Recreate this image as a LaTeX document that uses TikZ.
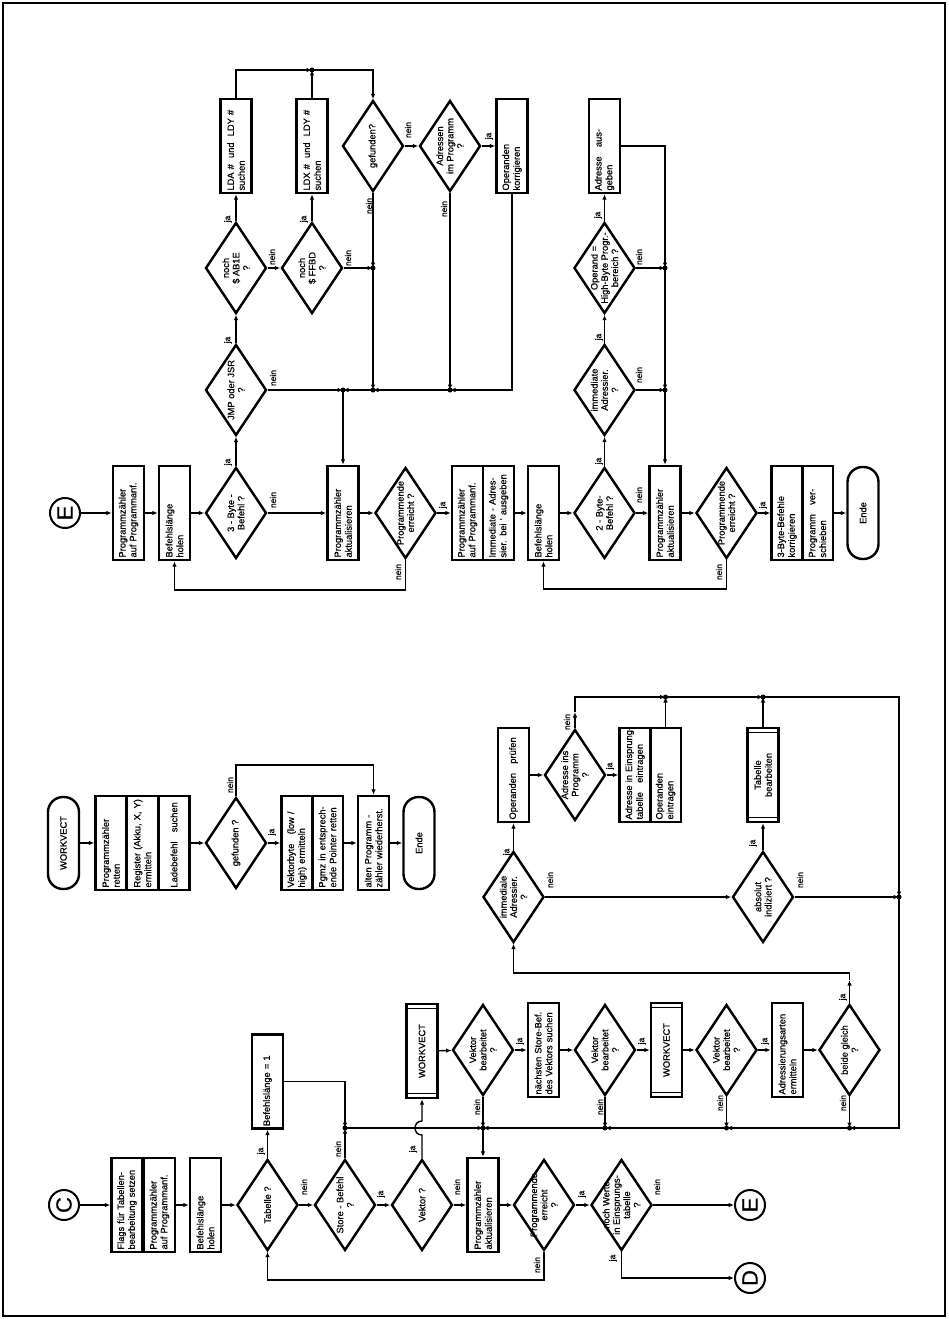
\documentclass[tikz,border=0pt]{standalone}
\usepackage{fontspec}
\setmainfont{Liberation Sans}[FakeBold=0.6]
\usepackage{tikz}
\usetikzlibrary{calc, positioning, shapes.geometric, arrows.meta}

\tikzset{
  box/.style={draw, line width=2.4pt, rotate=90, rectangle, minimum width=94pt, minimum height=31pt,
    text width=89pt, inner xsep=2.5pt, inner ysep=1pt, align=left, font=\fontsize{9.3}{10.8}\selectfont},
  subr/.style={box, align=center},
  dec/.style={draw, line width=2.4pt, rotate=90, diamond, minimum width=91pt, minimum height=61pt,
    inner sep=-15pt, align=center, font=\fontsize{9.3}{10.3}\selectfont},
  term/.style={draw, line width=2.4pt, rotate=90, rectangle, rounded corners=15pt, minimum width=92pt,
    minimum height=31pt, align=center, font=\fontsize{9.3}{10.8}\selectfont},
  conn/.style={draw, line width=2pt, rotate=90, circle, minimum size=30pt, inner sep=0pt,
    font=\fontsize{22}{22}\selectfont},
  arr/.style={-{Latex[length=5.5pt,width=4.5pt]}, line width=1.4pt},
  lbl/.style={rotate=90, inner sep=0pt, font=\fontsize{8.5}{9}\selectfont}
}

\begin{document}
\begin{tikzpicture}[x=1pt, y=-1pt]
  \useasboundingbox (0,0) rectangle (948,1319);
  \draw[line width=2pt] (3,3) rectangle (945,1316);

  % E: 3-byte commands
  \node[conn] (eE) at (65,513) {E};
  \node[box] (e1) at (128.5,513) {Programmzähler\\auf Programmanf.};
  \node[box] (e2) at (174.5,513) {Befehlslänge\\holen};
  \node[dec] (e3) at (236,513) {3 - Byte -\\Befehl ?};
  \node[dec] (e4) at (236,390) {JMP oder JSR\\?};
  \node[dec] (e5) at (236,268) {noch\\\$ AB1E\\?};
  \node[box] (e6) at (236,146) {LDA \# \ und \ LDY \#\\suchen};
  \node[dec] (e7) at (312,268) {noch\\\$ FFBD\\?};
  \node[box] (e8) at (312,146) {LDX \# \ und \ LDY \#\\suchen};
  \node[dec] (e9) at (373,146) {gefunden?};
  \node[dec] (e10) at (450,146) {Adressen\\im Programm\\?};
  \node[box] (e11) at (512,146) {Operanden\\korrigieren};
  \node[box] (e12) at (343,513) {Programmzähler\\aktualisieren};
  \node[dec] (e13) at (405.5,513) {Programmende\\erreicht ?};
  \node[box] (e14a) at (467.5,513) {Programmzähler\\auf Programmanf.};
  \node[box] (e14b) at (498.5,513) {Immediate - Adres-\\sier. bei ' ausgeben};
  \node[box] (e15) at (543.5,513) {Befehlslänge\\holen};
  % E: 2-byte commands
  \node[dec] (e16) at (604.5,513) {2 - Byte-\\Befehl ?};
  \node[dec] (e17) at (604.5,390) {immediate\\Adressier.\\?};
  \node[dec] (e18) at (604.5,268) {Operand =\\High-Byte Progr.-\\bereich ?};
  \node[box] (e19) at (604.5,146) {Adresse\quad aus-\\geben};
  \node[box] (e20) at (665,513) {Programmzähler\\aktualisieren};
  \node[dec] (e21) at (726.5,513) {Programmende\\erreicht ?};
  \node[box] (e22a) at (787,513) {3-Byte-Befehle\\korrigieren};
  \node[box] (e22b) at (817.5,513) {Programm\quad ver-\\schieben};
  \node[term] (e23) at (863,513) {Ende};

  \coordinate (jE1) at (312,70);
  \coordinate (jE2) at (373,268);
  \coordinate (jE3) at (343,390);
  \coordinate (jE4) at (373,390);
  \coordinate (jE5) at (450,390);
  \coordinate (jE6) at (665,268);
  \coordinate (jE7) at (665,390);

  \draw[arr] (eE) -- (e1);
  \draw[arr] (e1) -- (e2);
  \draw[arr] (e2) -- (e3);
  \draw[arr] (e3) -- (e4);
  \draw[arr] (e4) -- (e5);
  \draw[arr] (e5) -- (e6);
  \draw[arr] (e5) -- (e7);
  \draw[arr] (e7) -- (e8);
  \draw[arr] (e6) |- (jE1);
  \draw[arr] (e8) -- (jE1);
  \draw[arr] (jE1) -| (e9);
  \draw[arr] (e7) -- (jE2);
  \draw[arr] (e9) -- (jE2);
  \draw[arr] (jE2) -- (jE4);
  \draw[arr] (e9) -- (e10);
  \draw[arr] (e10) -- (jE5);
  \draw[arr] (e10) -- (e11);
  \draw[arr] (e11) |- (jE5);
  \draw[arr] (jE5) -- (jE4);
  \draw[arr] (jE4) -- (jE3);
  \draw[arr] (e4) -- (jE3);
  \draw[arr] (jE3) -- (e12);
  \draw[arr] (e3) -- (e12);
  \draw[arr] (e12) -- (e13);
  \draw[arr] (e13) -- (e14a);
  \draw[arr] (e13) -- ++(0,77) -| (e2);
  \draw[arr] (e14b) -- (e15);
  \draw[arr] (e15) -- (e16);
  \draw[arr] (e16) -- (e17);
  \draw[arr] (e17) -- (e18);
  \draw[arr] (e18) -- (e19);
  \draw[arr] (e19) -| (jE6);
  \draw[arr] (e18) -- (jE6);
  \draw[arr] (jE6) -- (jE7);
  \draw[arr] (e17) -- (jE7);
  \draw[arr] (jE7) -- (e20);
  \draw[arr] (e16) -- (e20);
  \draw[arr] (e20) -- (e21);
  \draw[arr] (e21) -- (e22a);
  \draw[arr] (e21) -- ++(0,76) -| (e15);
  \draw[arr] (e22b) -- (e23);

  % WORKVECT
  \node[term] (w0) at (63.5,843) {WORKVECT};
  \node[box] (w1a) at (111,843) {Programmzähler\\retten};
  \node[box] (w1b) at (142.5,843) {Register (Akku, X, Y)\\ermitteln};
  \node[box] (w1c) at (174,843) {Ladebefehl\quad suchen};
  \node[dec] (w2) at (236,843) {gefunden ?};
  \node[box] (w3a) at (297,843) {Vektorbyte\quad (low /\\high) ermitteln};
  \node[box] (w3b) at (327.5,843) {Pgmz in entsprech-\\ende Pointer retten};
  \node[box] (w4) at (373.5,843) {alten Programm -\\zähler wiederherst.};
  \node[term] (w5) at (419,843) {Ende};

  \draw[arr] (w0) -- (w1a);
  \draw[arr] (w1c) -- (w2);
  \draw[arr] (w2) -- (w3a);
  \draw[arr] (w2) -- ++(0,-78) -| (w4);
  \draw[arr] (w3b) -- (w4);
  \draw[arr] (w4) -- (w5);

  % C: table processing
  \node[conn] (cC) at (64,1205) {C};
  \node[box] (c1a) at (127,1205) {Flags für Tabellen-\\bearbeitung setzen};
  \node[box] (c1b) at (159.5,1205) {Programmzähler\\auf Programmanf.};
  \node[box] (c2) at (205.5,1205) {Befehlslänge\\holen};
  \node[dec] (c3) at (267.5,1205) {Tabelle ?};
  \node[box] (c4) at (267.5,1081.5) {Befehlslänge = 1};
  \node[dec] (c5) at (345,1205) {Store - Befehl\\?};
  \node[dec] (c6) at (422,1205) {Vektor ?};
  \node[subr] (cw1) at (422,1051) {WORKVECT};
  \node[dec] (c7) at (483,1050) {Vektor\\bearbeitet\\?};
  \node[box] (c8) at (543.5,1050) {nächsten Store-Bef.\\des Vektors suchen};
  \node[dec] (c9) at (605,1050) {Vektor\\bearbeitet\\?};
  \node[subr] (cw2) at (666.5,1050) {WORKVECT};
  \node[dec] (c10) at (726.5,1050) {Vektor\\bearbeitet\\?};
  \node[box] (c11) at (787.5,1050) {Adressierungsarten\\ermitteln};
  \node[dec] (c12) at (849.5,1050) {beide gleich\\?};
  \node[box] (c13) at (483,1205) {Programmzähler\\aktualisieren};
  \node[dec] (c14) at (544,1205) {Programmende\\erreicht\\?};
  \node[dec] (c15) at (621.5,1205) {noch Werte\\in Einsprungs-\\tabelle\\?};
  \node[conn] (cE) at (750,1205) {E};
  \node[conn] (cD) at (750,1278) {D};
  \node[dec] (c16) at (513.5,897) {immediale\\Adressier.\\?};
  \node[box] (c17) at (513.5,775) {Operanden\quad prüfen};
  \node[dec] (c18) at (575,775) {Adresse ins\\Programm\\?};
  \node[box] (c19a) at (635,775) {\mbox{Adresse in Einsprung-}\\tabelle\quad eintragen};
  \node[box] (c19b) at (665.5,775) {Operanden\\eintragen};
  \node[dec] (c20) at (763,897) {absolut\\indiziert ?};
  \node[subr] (c21) at (763,775) {Tabelle\\bearbeiten};

  \foreach \n in {cw1,cw2,c21} {
    \draw[line width=1.2pt] ($(\n.north east)!5.5pt!(\n.north west)$) -- ($(\n.south east)!5.5pt!(\n.south west)$);
    \draw[line width=1.2pt] ($(\n.north west)!5.5pt!(\n.north east)$) -- ($(\n.south west)!5.5pt!(\n.south east)$);
  }

  \coordinate (jC1) at (345,1128);
  \coordinate (jC2) at (483,1128);
  \coordinate (jC3) at (605,1128);
  \coordinate (jC4) at (726.5,1128);
  \coordinate (jC5) at (849.5,1128);
  \coordinate (jC6) at (665.5,697);
  \coordinate (jC7) at (763,697);
  \coordinate (jC8) at (899,897);

  \draw[arr] (cC) -- (c1a);
  \draw[arr] (c1b) -- (c2);
  \draw[arr] (c2) -- (c3);
  \draw[arr] (c3) -- (c4);
  \draw[arr] (c4) -| (jC1);
  \draw[arr] (c3) -- (c5);
  \draw[arr] (c5) -- (jC1);
  \draw[arr] (jC1) -- (jC2);
  \draw[arr] (c5) -- (c6);
  \draw[arr] (c6) -- (422,1135) .. controls (412.7,1135) and (412.7,1121) .. (422,1121) -- (cw1);
  \draw[arr] (cw1) -- (c7);
  \draw[arr] (c7) -- (jC2);
  \draw[arr] (c7) -- (c8);
  \draw[arr] (c8) -- (c9);
  \draw[arr] (c9) -- (jC3);
  \draw[arr] (c9) -- (cw2);
  \draw[arr] (cw2) -- (c10);
  \draw[arr] (c10) -- (jC4);
  \draw[arr] (c10) -- (c11);
  \draw[arr] (c11) -- (c12);
  \draw[arr] (c12) -- (jC5);
  \draw[arr] (jC5) -- (jC4);
  \draw[arr] (jC4) -- (jC3);
  \draw[arr] (jC3) -- (jC2);
  \draw[arr] (jC2) -- (c13);
  \draw[arr] (c6) -- (c13);
  \draw[arr] (c13) -- (c14);
  \draw[arr] (c14) -- (c15);
  \draw[arr] (c14) -- ++(0,75) -| (c3);
  \draw[arr] (c15) -- (cE);
  \draw[arr] (c15) |- (cD);
  \draw[arr] (c12) -- (849.5,980);
  \draw[arr] (849.5,980) |- (513.5,973) -- (c16);
  \draw[arr] (c16) -- (c17);
  \draw[arr] (c17) -- (c18);
  \draw[arr] (c18) -- (c19a);
  \draw[arr] (c18) -- (575,712);
  \draw[arr] (575,712) |- (jC6);
  \draw[arr] (c19b) -- (jC6);
  \draw[arr] (jC6) -- (jC7);
  \draw[arr] (c16) -- (c20);
  \draw[arr] (c20) -- (c21);
  \draw[arr] (c21) -- (jC7);
  \draw[arr] (jC7) -| (jC8);
  \draw[arr] (c20) -- (jC8);
  \draw[arr] (jC8) |- (jC5);

  \foreach \j in {jE1,jE2,jE3,jE4,jE5,jE6,jE7,jC1,jC2,jC3,jC4,jC5,jC6,jC7,jC8}
    \fill (\j) circle (2.5pt);

  % ja / nein
  \foreach \a/\b/\t [count=\i] in {228/462/ja, 273/500/nein, 228/340/ja, 273/378/nein, 228/219/ja,
      272/257/nein, 304/219/ja, 348/258/nein, 369/206/nein, 408/130/nein, 444/209/nein, 489/136/ja,
      398/572/nein, 443/505/ja, 599/461/ja, 599/337/ja, 598/215/ja, 639/257/nein, 639/375/nein,
      639/495/nein, 719/572/nein, 763/505/ja, 230/785/nein, 272/832/ja,
      261/1151/ja, 304/1187/nein, 338/1149/nein, 381/1194/ja, 413/1149/ja, 457/1187/nein,
      477/1107/nein, 520/1041/ja, 600/1107/nein, 642/1041/ja, 720/1103/nein, 765/1041/ja,
      843/1103/nein, 843/997/ja, 537/1265/nein, 582/1194/ja, 613/1258/ja, 657/1187/nein,
      507/852/ja, 567/722/nein, 610/766/ja, 550/880/nein, 753/843/ja, 800/880/nein}
    \node[lbl] (lab\i) at (\a,\b) {\t};
\end{tikzpicture}
\end{document}
